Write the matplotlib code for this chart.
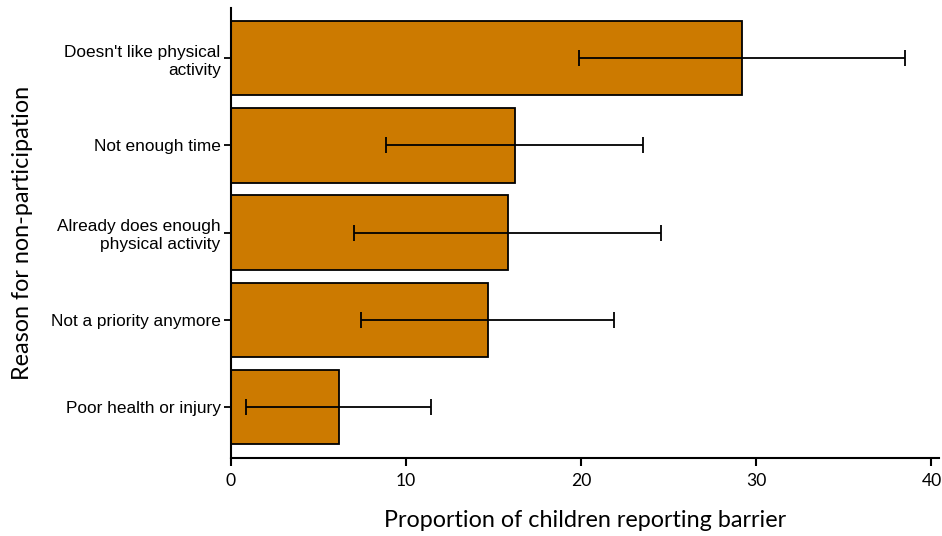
import matplotlib
matplotlib.use("Agg")
import matplotlib.pyplot as plt
import numpy as np

categories = ["Doesn't like physical\nactivity", "Not enough time",
              "Already does enough\nphysical activity", "Not a priority anymore",
              "Poor health or injury"]
values = [29.2, 16.2, 15.8, 14.65, 6.15]
lower = [19.86, 8.88, 7.0, 7.44, 0.87]
upper = [38.5, 23.53, 24.58, 21.86, 11.41]
xticks = [0, 10, 20, 30, 40]

fig = plt.figure(figsize=(9.42, 5.36), dpi=100)
ax = fig.add_axes([0.2452, 0.146, 0.752, 0.840])

y = np.arange(len(categories))
vals = np.array(values)
xerr = np.array([vals - np.array(lower), np.array(upper) - vals])
ax.barh(y, vals, height=0.852, color="#CC7A00", edgecolor="black", linewidth=1.3, zorder=2)
ax.errorbar(vals, y, xerr=xerr, fmt="none", ecolor="black", elinewidth=1.3,
            capsize=5.8, capthick=1.3, zorder=3)

ax.set_ylim(4.58, -0.58)
ax.set_xlim(0, 40.45)
ax.set_yticks(y)
ax.set_yticklabels(categories, fontfamily="Liberation Sans", fontsize=12.4,
                   ha="right", linespacing=1.25)
ax.set_xticks(xticks)
ax.set_xticklabels([str(t) for t in xticks], fontfamily="Lato", fontsize=12.6)
for s in ["top", "right"]:
    ax.spines[s].set_visible(False)
for s in ["left", "bottom"]:
    ax.spines[s].set_linewidth(1.5)
ax.tick_params(axis="x", direction="out", length=6, width=1.5, pad=5)
ax.tick_params(axis="y", direction="out", length=5, width=1.3, pad=2.5)
ax.set_xlabel("Proportion of children reporting barrier", fontfamily="Lato",
              fontsize=16.8, labelpad=15)
ax.set_ylabel("Reason for non-participation", fontfamily="Lato", fontsize=16.8,
              labelpad=13)

fig.savefig("out.png", dpi=100)
